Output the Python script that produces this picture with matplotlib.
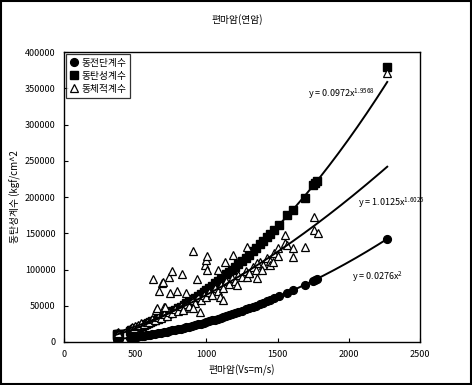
import matplotlib
matplotlib.use("Agg")
import numpy as np
import matplotlib.pyplot as plt
from matplotlib.patches import Rectangle

plt.rcParams['font.family'] = ['Noto Sans CJK KR', 'DejaVu Sans']
plt.rcParams['mathtext.default'] = 'regular'

# shear wave velocity (m/s) of each sample
vs = [370, 375, 380, 385, 460, 470, 480, 490, 500, 515, 530, 545, 560, 575, 590,
      605, 620, 640, 660, 680, 700, 720, 740, 760, 780, 800, 820, 840, 860, 880,
      900, 920, 940, 960, 980, 1000, 1020, 1040, 1060, 1080, 1100, 1120, 1140,
      1160, 1180, 1200, 1225, 1250, 1275, 1300, 1325, 1350, 1375, 1400, 1425,
      1450, 1475, 1510, 1564, 1610, 1692, 1751, 1763, 1774, 2270]

# dynamic shear modulus
shear = [3780, 3880, 3990, 4090, 5840, 6100, 6360, 6630, 6900, 7320, 7750, 8200,
         8660, 9130, 9610, 10100, 10610, 11310, 12020, 12760, 13520, 14310, 15110,
         15940, 16790, 17660, 18560, 19470, 20410, 21370, 22360, 23360, 24390,
         25440, 26510, 27600, 28720, 29850, 31010, 32190, 33400, 34620, 35870,
         37140, 38430, 39740, 41420, 43130, 44870, 46640, 48460, 50300, 52180,
         54100, 56050, 58030, 60050, 62930, 67510, 71540, 79020, 84620, 85790,
         86860, 142220]

# dynamic Young's modulus
young = [10310, 10580, 10860, 11140, 15770, 16450, 17140, 17850, 18580, 19680,
         20830, 22000, 23200, 24430, 25690, 26980, 28310, 30130, 31990, 33910,
         35890, 37930, 40020, 42170, 44360, 46620, 48920, 51280, 53690, 56150,
         58690, 61250, 63870, 66570, 69320, 72120, 74980, 77880, 80850, 83860,
         86930, 90050, 93220, 96450, 99730, 103060, 107270, 111610, 116030,
         120530, 125110, 129780, 134520, 139300, 144200, 149190, 154260, 161480,
         174500, 182500, 199000, 216500, 219000, 221500, 379000]

# dynamic bulk modulus (own velocity list, more scatter)
tri_vs = [372, 376, 380, 470, 480, 490, 500, 520, 540, 560, 580, 600, 620, 640,
          660, 680, 700, 720, 740, 760, 780, 800, 820, 840, 860, 880, 900, 920,
          940, 960, 980, 1000, 1020, 1040, 1060, 1080, 1100, 1120, 1140, 1160,
          1180, 1200, 1225, 1250, 1275, 1300, 1325, 1350, 1375, 1400, 1425, 1450,
          1475, 1500,
          627, 644, 651, 667, 686, 697, 704, 709, 737, 747, 756, 793, 831, 838,
          857, 904, 908, 936, 955, 990, 999, 1002, 1006, 1084, 1095, 1119, 1131,
          1189, 1213, 1283, 1283, 1301, 1353, 1353, 1388, 1447, 1465, 1505, 1552,
          1552, 1564, 1610, 1610, 1692, 1758, 1758, 1786, 2270]
bulk = [13000, 14200, 12800, 19500, 20800, 19600, 22500, 22800, 25800, 24200,
        28200, 27000, 31500, 29800, 34500, 33000, 38500, 36000, 41800, 39500,
        45500, 43000, 49500, 46500, 53000, 50000, 57500, 53500, 61500, 57500,
        65000, 61500, 69500, 65500, 74000, 70500, 79000, 74500, 84000, 79500,
        88500, 83500, 93000, 89000, 98500, 95000, 104000, 99500, 110000, 106000,
        116000, 112000, 123000, 118000,
        86500, 44100, 46500, 70800, 81800, 83200, 47900, 48700, 89200, 68000,
        98300, 69900, 93800, 44100, 67100, 125500, 46500, 86900, 41800, 106000,
        113000, 99300, 118600, 99300, 62500, 57900, 110800, 120000, 78600,
        131500, 90000, 94700, 109400, 87900, 100000, 106000, 110800, 129000,
        147600, 136000, 133800, 129000, 116800, 131400, 172800, 155000, 150800,
        370600]

# power-law trend lines y = a * x^b
trends = [(0.0972, 1.9568, 'y = 0.0972x$^{1.9568}$'),
          (1.0125, 1.6025, 'y = 1.0125x$^{1.6025}$'),
          (0.0276, 2.0, 'y = 0.0276x$^{2}$')]

fig = plt.figure(figsize=(4.72, 3.85), dpi=100)
ax = fig.add_axes([0.1356, 0.1117, 0.7542, 0.7532])

ax.plot(vs, shear, 'o', color='black', ms=5.6, label='동전단계수', zorder=3)
ax.plot(vs, young, 's', color='black', ms=5.6, label='동탄성계수', zorder=3)
ax.plot(tri_vs, bulk, '^', mfc='white', mec='black', mew=0.9, ms=6.4,
        linestyle='none', label='동체적계수', zorder=4)

xs = np.linspace(min(vs), max(vs), 200)
for a, b, _ in trends:
    ax.plot(xs, a * xs ** b, color='black', lw=1.4, zorder=5)

ax.text(1713, 343000, trends[0][2], fontsize=6.5, va='center', ha='left')
ax.text(2065, 191500, trends[1][2], fontsize=6.5, va='center', ha='left',
        clip_on=False)
ax.text(2022, 89500, trends[2][2], fontsize=6.5, va='center', ha='left')

ax.set_xlim(0, 2500)
ax.set_ylim(0, 400000)
ax.set_xticks(np.arange(0, 2501, 500))
ax.set_yticks(np.arange(0, 400001, 50000))
ax.tick_params(direction='in', length=3, width=0.8, labelsize=6.5, pad=6)
for s in ax.spines.values():
    s.set_linewidth(1.0)

ax.set_xlabel('편마암(Vs=m/s)', fontsize=7, labelpad=4)
ax.set_ylabel('동탄성계수 (kgf/cm^2', fontsize=7, labelpad=3)

leg = ax.legend(loc='upper left', bbox_to_anchor=(0.0, 1.0), fontsize=7,
                frameon=True, fancybox=False, edgecolor='black',
                handlelength=0.8, handletextpad=0.4, borderpad=0.4,
                labelspacing=0.3, borderaxespad=0.2)
leg.get_frame().set_linewidth(0.9)

fig.text(0.502, 0.948, '편마암(연암)', fontsize=7, ha='center', va='center')

# outer frame of the chart
fig.patches.append(Rectangle((0.003, 0.003), 0.994, 0.994, transform=fig.transFigure,
                             fill=False, edgecolor='black', linewidth=1.5))

fig.savefig('out.png', dpi=100)
